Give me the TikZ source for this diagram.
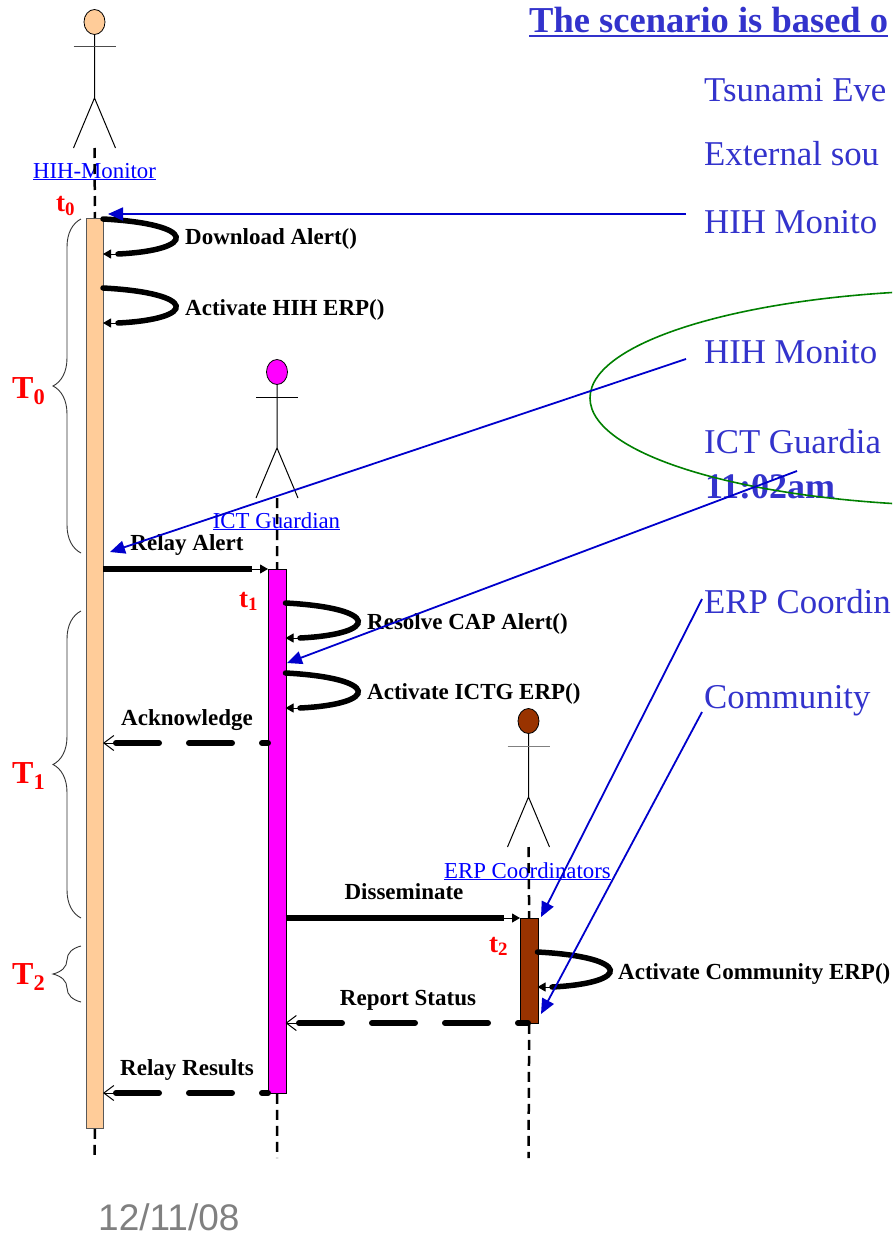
\documentclass[tikz,border=0pt]{standalone}
\usepackage{fontspec}
\setmainfont{Liberation Serif}
\newfontfamily\datefont{Liberation Sans}
\usetikzlibrary{arrows.meta,decorations.pathreplacing,calc}
\definecolor{peach}{HTML}{FFCC99}
\definecolor{magent}{HTML}{FF00FF}
\definecolor{brownbar}{HTML}{993300}
\definecolor{txtblue}{HTML}{3333CC}
\definecolor{arrblue}{HTML}{0000CC}
\definecolor{linkblue}{HTML}{0000FF}
\definecolor{ellgreen}{HTML}{008000}
\definecolor{dategray}{HTML}{808080}
\newcommand{\drawactor}[5]{%
  \draw[fill=#3, line width=0.8pt] (#1,#2) ellipse [x radius=10.5pt, y radius=12.5pt];
  \draw[line width=1pt] (#1,#2+12.5) -- (#1,#2+76)
        (#1-21,#2+126) -- (#1,#2+76) -- (#1+21,#2+126);
  \draw[line width=1pt, #5] (#1-21,#2+25) -- (#1+21,#2+25);
  \coordinate (#4) at (#1,#2+126);}
\tikzset{
  lifeline/.style={line width=2.5pt, dash pattern=on 10pt off 6pt},
  barbox/.style={line width=0.9pt},
  callline/.style={line width=5.5pt, line cap=round},
  sendline/.style={line width=5.5pt},
  tipline/.style={line width=1pt, -{Triangle[length=8pt,width=9pt]}},
  retline/.style={line width=6pt, line cap=round, dash pattern=on 43pt off 30pt},
  rettip/.style={line width=1pt, -{Straight Barb[length=10pt,width=15pt]}},
  msglabel/.style={inner sep=0pt, font=\bfseries\fontsize{23}{27}\selectfont},
  actlabel/.style={inner sep=0pt, anchor=base, text=linkblue, font=\fontsize{22.8}{26}\selectfont},
  tlabel/.style={inner sep=0pt, anchor=base west, text=red, font=\bfseries\fontsize{32}{36}\selectfont},
  smalltlabel/.style={inner sep=0pt, anchor=base west, text=red, font=\bfseries\fontsize{27}{30}\selectfont},
  bracket/.style={decorate, decoration={brace, amplitude=28pt}, line width=0.9pt, black!80},
  rtext/.style={inner sep=0pt, anchor=base west, text=txtblue, font=\fontsize{34.8}{40}\selectfont},
  annot/.style={arrblue, line width=1.8pt, -{Triangle[length=15pt,width=13pt]}},
}
\begin{document}
\begin{tikzpicture}[x=1pt,y=-1pt]
\useasboundingbox (0,0) rectangle (892,1239);
\fill[white] (0,0) rectangle (892,1239);
\clip (0,0) rectangle (892,1239);

% actors
\drawactor{94.5}{22}{peach}{hihfeet}{black!70}
\drawactor{277}{372}{magent}{ictfeet}{black}
\drawactor{528.5}{721}{brownbar}{erpfeet}{black!50}
\node[actlabel] (hihname) at (94.5,178) {\underline{HIH-Monitor}};
\node[actlabel] (ictname) at (276.5,528) {\underline{ICT Guardian}};
\node[actlabel] (erpname) at (527.5,878) {\underline{ERP Coordinators}};

% activation bars
\node[barbox, draw=black!65, fill=peach, minimum width=17pt, minimum height=910pt, anchor=north west, inner sep=0pt] (hihbar) at (86,218) {};
\node[barbox, draw=black, fill=magent, minimum width=17.5pt, minimum height=524pt, anchor=north west, inner sep=0pt] (ictbar) at (268,569) {};
\node[barbox, draw=black, fill=brownbar, minimum width=17.5pt, minimum height=105pt, anchor=north west, inner sep=0pt] (erpbar) at (520,918) {};

% lifelines
\draw[lifeline] (hihfeet) -- (hihbar.north);
\draw[lifeline] (hihbar.south) -- (94.5,1158);
\draw[lifeline] (ictfeet) -- (ictbar.north);
\draw[lifeline] (ictbar.south) -- (277,1158);
\draw[lifeline] (erpfeet) -- (erpbar.north);
\draw[lifeline] (erpbar.south) -- (528.5,1158);

% braces
\draw[bracket] (81,553) -- (81,219);
\draw[bracket] (81,918) -- (81,611);
\draw[bracket] (81,1002) -- (81,946);
\node[tlabel] (T0) at (12,398) {T\textsubscript{0}};
\node[tlabel] (T1) at (12,783) {T\textsubscript{1}};
\node[tlabel] (T2) at (12,984) {T\textsubscript{2}};
\node[smalltlabel] (t0) at (56,211) {t\textsubscript{0}};
\node[smalltlabel] (t1) at (239,607) {t\textsubscript{1}};
\node[smalltlabel] (t2) at (489,952) {t\textsubscript{2}};

% self calls
\draw[callline] (103,219) .. controls (198,224) and (198,250) .. (118,254);
\draw[tipline] (120,254) -- (103,254);
\node[msglabel, anchor=base west] (ldl) at (185,244) {Download Alert()};
\draw[callline] (103,288) .. controls (198,293) and (198,319) .. (118,323);
\draw[tipline] (120,323) -- (103,323);
\node[msglabel, anchor=base west] (lah) at (185,315) {Activate HIH ERP()};
\draw[callline] (285.5,603) .. controls (380,608) and (380,634) .. (300,638);
\draw[tipline] (302,638) -- (285.5,638);
\node[msglabel, anchor=base west] (lrc) at (367,629) {Resolve CAP Alert()};
\draw[callline] (285.5,673) .. controls (380,678) and (380,704) .. (300,708);
\draw[tipline] (302,708) -- (285.5,708);
\node[msglabel, anchor=base west] (lai) at (367,699) {Activate ICTG ERP()};
\draw[callline] (537.5,952) .. controls (632,957) and (632,983) .. (552,987);
\draw[tipline] (554,987) -- (537.5,987);
\node[msglabel, anchor=base west] (lac) at (618,979) {Activate Community ERP()};

% messages
\coordinate (ra1) at (103,569); \coordinate (ra2) at (252,569); \coordinate (ra3) at (268,569);
\draw[sendline] (ra1) -- (ra2);
\draw[tipline] ($(ra2)+(-2,0)$) -- (ra3);
\node[msglabel, anchor=base] (lra) at (187,550) {Relay Alert};

\coordinate (ds1) at (285.5,918); \coordinate (ds2) at (504,918); \coordinate (ds3) at (520,918);
\draw[sendline] (ds1) -- (ds2);
\draw[tipline] ($(ds2)+(-2,0)$) -- (ds3);
\node[msglabel, anchor=base] (lds) at (404,899) {Disseminate};

\coordinate (ak0) at (103,743); \coordinate (ak1) at (116,743); \coordinate (ak2) at (268,743);
\draw[retline] (ak1) -- (ak2);
\draw[rettip] ($(ak1)+(2,0)$) -- (ak0);
\node[msglabel, anchor=base] (lak) at (187,725) {Acknowledge};

\coordinate (rs0) at (285.5,1023); \coordinate (rs1) at (299,1023); \coordinate (rs2) at (528,1023);
\draw[retline] (rs1) -- (rs2);
\draw[rettip] ($(rs1)+(2,0)$) -- (rs0);
\node[msglabel, anchor=base] (lrs) at (408,1005) {Report Status};

\coordinate (rr0) at (103,1093); \coordinate (rr1) at (116,1093); \coordinate (rr2) at (268,1093);
\draw[retline] (rr1) -- (rr2);
\draw[rettip] ($(rr1)+(2,0)$) -- (rr0);
\node[msglabel, anchor=base] (lrr) at (187,1075) {Relay Results};

% right side texts
\node[rtext, font=\bfseries\fontsize{36.5}{40}\selectfont] (title) at (529,33) {The scenario is based o};
\draw[txtblue, line width=2pt] ([yshift=-3pt]title.base west) -- ([yshift=-3pt]title.base east);
\node[rtext] (s1) at (704,101) {Tsunami Eve};
\node[rtext] (s2) at (704,165) {External sou};
\node[rtext] (s3) at (704,233) {HIH Monito};
\node[rtext] (s4) at (704,363) {HIH Monito};
\node[rtext] (s5) at (704,453) {ICT Guardia};
\node[rtext, font=\bfseries\fontsize{36}{40}\selectfont] (s6) at (705,498) {11:02am};
\node[rtext] (s7) at (704,613) {ERP Coordin};
\node[rtext] (s8) at (704,708) {Community};

% date
\node[inner sep=0pt, anchor=base west, text=dategray, font=\datefont\fontsize{37}{40}\selectfont] (date) at (98,1230) {12/11/08};

% green ellipse
\draw[ellgreen, line width=1.6pt] (975,398) ellipse [x radius=385pt, y radius=108pt];

% annotation arrows
\coordinate (a1s) at (686,214); \coordinate (a1e) at (108,214);
\coordinate (a2s) at (686,359); \coordinate (a2e) at (110,552);
\coordinate (a3s) at (797,471); \coordinate (a3e) at (287,663);
\coordinate (a4s) at (702,599); \coordinate (a4e) at (541,917);
\coordinate (a5s) at (702,712); \coordinate (a5e) at (541,1014);
\draw[annot] (a1s) -- (a1e);
\draw[annot] (a2s) -- (a2e);
\draw[annot] (a3s) -- (a3e);
\draw[annot] (a4s) -- (a4e);
\draw[annot] (a5s) -- (a5e);
\end{tikzpicture}
\end{document}
